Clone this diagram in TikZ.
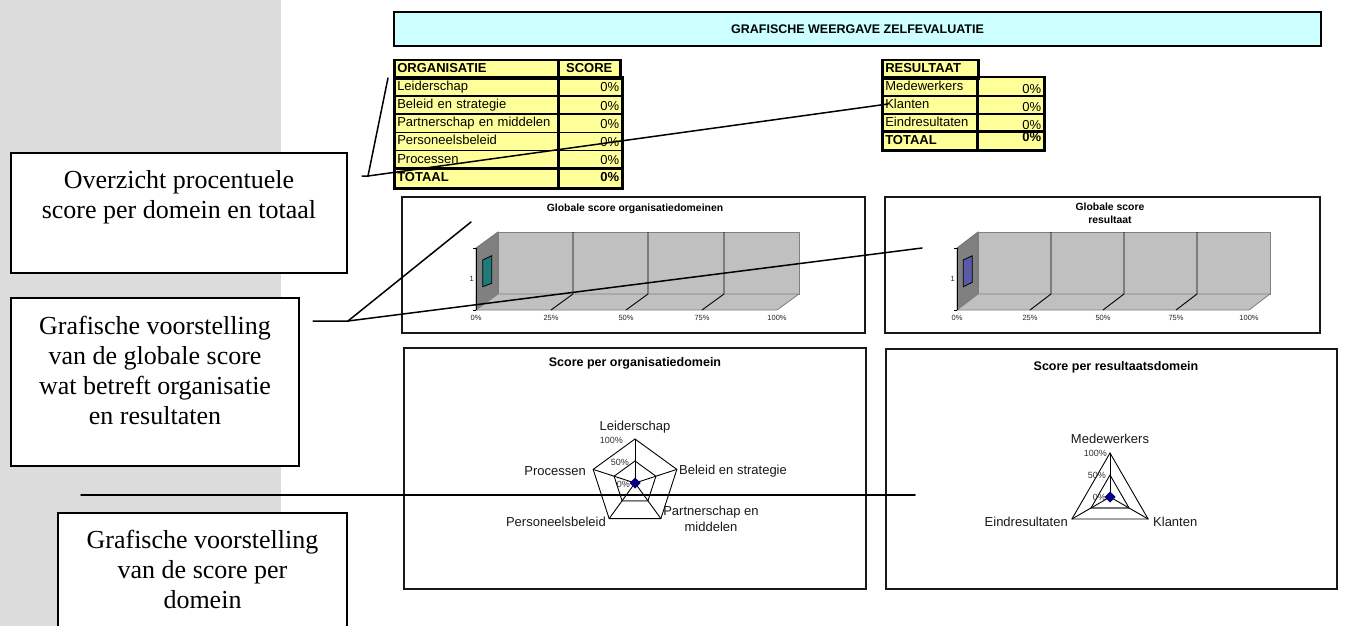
\documentclass[tikz,border=0pt]{standalone}
\usepackage{fontspec}
\setmainfont{Liberation Serif}
\newfontfamily\arial{Liberation Sans}
\usetikzlibrary{calc}
\definecolor{bandgray}{HTML}{DCDCDC}
\definecolor{tyellow}{HTML}{FFFF99}
\definecolor{tcyan}{HTML}{CCFFFF}
\definecolor{wallgray}{HTML}{C0C0C0}
\definecolor{sidegray}{HTML}{808080}
\definecolor{barteal}{HTML}{1F7A7A}
\definecolor{barblue}{HTML}{5A5AA8}
\definecolor{navyblue}{HTML}{000080}
\newcommand{\tabfont}{\arial\fontsize{13}{14}\selectfont}
\begin{document}
\begin{tikzpicture}[x=1pt,y=-1pt,
  callbox/.style={draw, line width=2pt, anchor=north west, inner sep=0pt, fill=white},
  calltext/.style={anchor=north, inner sep=0pt, align=center, font=\fontsize{26}{30}\selectfont},
  leader/.style={line width=1.5pt, line cap=round},
  chartframe/.style={draw=black!90, line width=1.5pt, anchor=north west, inner sep=0pt, fill=white},
  ctitle/.style={font=\arial\bfseries\fontsize{10.4}{13}\selectfont, align=center, inner sep=0pt},
  rtitle/.style={font=\arial\bfseries\fontsize{12.5}{14}\selectfont, inner sep=0pt},
  axlab/.style={font=\arial\fontsize{7.5}{8}\selectfont, inner sep=0pt, text=black!85},
  pct/.style={font=\arial\fontsize{9}{10}\selectfont, text=black!80, inner sep=0pt, anchor=east},
  rlab/.style={font=\arial\fontsize{13}{16}\selectfont, inner sep=0pt, text=black!90},
  cell/.style={draw, fill=tyellow, line width=1.5pt, anchor=north west, inner xsep=2.5pt, inner ysep=0pt, text height=9.5pt, text depth=2.5pt, font=\tabfont},
  lc/.style={cell, text width=#1, align=left},
  rc/.style={cell, text width=#1, align=right},
  cc/.style={cell, text width=#1, align=center},
  thickline/.style={line width=2.4pt},
  wall/.style={fill=wallgray, draw=sidegray, line width=0.8pt},
  side/.style={fill=sidegray, draw=black!55, line width=0.8pt},
  grid3d/.style={draw=black, line width=0.9pt},
  spoke/.style={draw=black, line width=0.9pt},
  marker/.style={fill=navyblue}
]
\useasboundingbox (0,0) rectangle (1347,626);
\fill[bandgray] (0,0) rectangle (281,626);

% ---------------- title bar
\node[draw, line width=2pt, fill=tcyan, anchor=north west, minimum width=927pt, minimum height=34pt, inner sep=0pt,
      font=\arial\bfseries\fontsize{12.5}{14}\selectfont] (title) at (393,11) {GRAFISCHE WEERGAVE ZELFEVALUATIE};

% ---------------- ORGANISATIE table
\node[lc=159pt, minimum height=17pt, font=\tabfont\bfseries] (oh1) at (394,60) {ORGANISATIE};
\node[cc=56pt, minimum height=17pt, font=\tabfont\bfseries] (oh2) at (558,60) {SCORE};
\node[lc=159pt, minimum height=18.2pt] (o1a) at (394,77) {Leiderschap};
\node[rc=58pt, minimum height=18.2pt] (o1b) at (558,77) {\raisebox{-1.5pt}{0\%}};
\node[lc=159pt, minimum height=18.2pt] (o2a) at (394,95.2) {Beleid en strategie};
\node[rc=58pt, minimum height=18.2pt] (o2b) at (558,95.2) {\raisebox{-1.5pt}{0\%}};
\node[lc=159pt, minimum height=18.2pt] (o3a) at (394,113.4) {Partnerschap en middelen};
\node[rc=58pt, minimum height=18.2pt] (o3b) at (558,113.4) {\raisebox{-1.5pt}{0\%}};
\node[lc=159pt, minimum height=18.2pt] (o4a) at (394,131.6) {Personeelsbeleid};
\node[rc=58pt, minimum height=18.2pt] (o4b) at (558,131.6) {\raisebox{-1.5pt}{0\%}};
\node[lc=159pt, minimum height=18.2pt] (o5a) at (394,149.8) {Processen};
\node[rc=58pt, minimum height=18.2pt] (o5b) at (558,149.8) {\raisebox{-1.5pt}{0\%}};
\node[lc=159pt, minimum height=19pt, font=\tabfont\bfseries] (o6a) at (394,168) {TOTAAL};
\node[rc=58pt, minimum height=19pt, font=\tabfont\bfseries] (o6b) at (558,168) {0\%};
\draw[thickline] (oh1.north west) rectangle (oh2.south east);
\draw[thickline] (o1a.north west) rectangle (o6b.south east);
\draw[thickline] (o6a.north west) -- (o6b.north east);
\draw[thickline] (oh2.north west) -- (o6b.south west);

% ---------------- RESULTAAT table
\node[lc=90pt, minimum height=17pt, font=\tabfont\bfseries] (rh1) at (882,60) {RESULTAAT};
\node[lc=90pt, minimum height=18pt] (r1a) at (882,77) {Medewerkers};
\node[rc=61pt, minimum height=18pt] (r1b) at (977,77) {\raisebox{-3pt}{0\%}};
\node[lc=90pt, minimum height=18pt] (r2a) at (882,95) {Klanten};
\node[rc=61pt, minimum height=18pt] (r2b) at (977,95) {\raisebox{-3pt}{0\%}};
\node[lc=90pt, minimum height=18pt] (r3a) at (882,113) {Eindresultaten};
\node[rc=61pt, minimum height=18pt] (r3b) at (977,113) {\raisebox{-3pt}{0\%}};
\node[lc=90pt, minimum height=18pt, font=\tabfont\bfseries] (r4a) at (882,131) {TOTAAL};
\node[rc=61pt, minimum height=18pt, font=\tabfont\bfseries] (r4b) at (977,131) {\raisebox{3pt}{0\%}};
\draw[thickline] (rh1.north west) rectangle (rh1.south east);
\draw[thickline] (r1a.north west) rectangle (r4b.south east);
\draw[thickline] (r4a.north west) -- (r4b.north east);
\draw[thickline] (r1b.north west) -- (r4b.south west);

% ---------------- chart 1 : global score organisation
\node[chartframe, minimum width=463pt, minimum height=136pt] (ch1) at (401,196) {};
\node[ctitle] (ch1t) at (635,209) {Globale score organisatiedomeinen};
\path[side] (476,248) -- (498,232) -- (498,294) -- (476,310) -- cycle;
\path[wall] (498,232) rectangle (799,294);
\path[wall] (476,310) -- (498,294) -- (799,294) -- (777,310) -- cycle;
\foreach \gx/\fx in {573/551, 648/626, 724/702} {
  \draw[grid3d] (\gx,232) -- (\gx,294) -- (\fx,310);
}
\draw[line width=1pt] (476,248) -- (476,310);
\draw[line width=0.8pt] (473,248) -- (476,248);
\draw[line width=0.8pt] (473,310) -- (476,310);
\node[axlab, anchor=east] (ch1y) at (474,279) {1};
\node[axlab] (ch1x0) at (476,318) {0\%};
\node[axlab] (ch1x1) at (551,318) {25\%};
\node[axlab] (ch1x2) at (626,318) {50\%};
\node[axlab] (ch1x3) at (702,318) {75\%};
\node[axlab] (ch1x4) at (777,318) {100\%};
\filldraw[fill=barteal, draw=black, line width=0.8pt] (482.7,260) -- (491.7,255.7) -- (491.7,283.3) -- (482.7,286.7) -- cycle;

% ---------------- chart 2 : global score results
\node[chartframe, minimum width=435pt, minimum height=136pt] (ch2) at (884,196) {};
\node[ctitle] (ch2t) at (1110,213) {Globale score\\resultaat};
\path[side] (957,248) -- (978,232) -- (978,294) -- (957,310) -- cycle;
\path[wall] (978,232) rectangle (1270,294);
\path[wall] (957,310) -- (978,294) -- (1270,294) -- (1249,310) -- cycle;
\foreach \gx/\fx in {1051/1030, 1124/1103, 1197/1176} {
  \draw[grid3d] (\gx,232) -- (\gx,294) -- (\fx,310);
}
\draw[line width=1pt] (957,248) -- (957,310);
\draw[line width=0.8pt] (954,248) -- (957,248);
\draw[line width=0.8pt] (954,310) -- (957,310);
\node[axlab, anchor=east] (ch2y) at (955,279) {1};
\node[axlab] (ch2x0) at (957,318) {0\%};
\node[axlab] (ch2x1) at (1030,318) {25\%};
\node[axlab] (ch2x2) at (1103,318) {50\%};
\node[axlab] (ch2x3) at (1176,318) {75\%};
\node[axlab] (ch2x4) at (1249,318) {100\%};
\filldraw[fill=barblue, draw=black, line width=0.8pt] (963.3,260) -- (972.3,255.7) -- (972.3,282.3) -- (963.3,286.7) -- cycle;

% ---------------- chart 3 : radar organisation
\node[chartframe, minimum width=462pt, minimum height=241pt] (ch3) at (403,347) {};
\node[rtitle] (ch3t) at (635,363) {Score per organisatiedomein};
\coordinate (c3) at (635,483);
\coordinate (p1) at ($(c3)+(0,-44)$);
\coordinate (p2) at ($(c3)+(41.85,-13.6)$);
\coordinate (p3) at ($(c3)+(25.86,35.6)$);
\coordinate (p4) at ($(c3)+(-25.86,35.6)$);
\coordinate (p5) at ($(c3)+(-41.85,-13.6)$);
\coordinate (q1) at ($(c3)+(0,-22)$);
\coordinate (q2) at ($(c3)+(20.92,-6.8)$);
\coordinate (q3) at ($(c3)+(12.93,17.8)$);
\coordinate (q4) at ($(c3)+(-12.93,17.8)$);
\coordinate (q5) at ($(c3)+(-20.92,-6.8)$);
\draw[spoke] (p1) -- (p2) -- (p3) -- (p4) -- (p5) -- cycle;
\draw[spoke] (q3) -- (q4) -- (q5) -- (q1) -- (q2) -- (q3);
\draw[draw=black!55, line width=0.9pt] (q3) -- (q4);
\foreach \p in {p1,p2,p3,p4,p5} { \draw[spoke] (c3) -- (\p); }
\path[marker] ($(c3)+(0,-5.5)$) -- ($(c3)+(5.5,0)$) -- ($(c3)+(0,5.5)$) -- ($(c3)+(-5.5,0)$) -- cycle;
\node[rlab] (l31) at (635,427) {Leiderschap};
\node[rlab, anchor=west] (l32) at (679,471) {Beleid en strategie};
\node[rlab, anchor=north, align=center] (l33) at (711,506) {Partnerschap en\\middelen};
\node[rlab, anchor=east] (l34) at (606,522) {Personeelsbeleid};
\node[rlab, anchor=east] (l35) at (586,471) {Processen};
\node[pct] (t3a) at (623,440) {100\%};
\node[pct] (t3b) at (629,462) {50\%};
\node[pct] (t3c) at (630,484) {0\%};

% ---------------- chart 4 : radar results
\node[chartframe, minimum width=451pt, minimum height=240pt] (ch4) at (885,348) {};
\node[rtitle] (ch4t) at (1116,367) {Score per resultaatsdomein};
\coordinate (c4) at (1110,497);
\coordinate (s1) at ($(c4)+(0,-44)$);
\coordinate (s2) at ($(c4)+(38.1,22)$);
\coordinate (s3) at ($(c4)+(-38.1,22)$);
\coordinate (u1) at ($(c4)+(0,-22)$);
\coordinate (u2) at ($(c4)+(19.05,11)$);
\coordinate (u3) at ($(c4)+(-19.05,11)$);
\draw[spoke] (s1) -- (s2) -- (s3) -- cycle;
\draw[spoke] (u2) -- (u1) -- (u3);
\draw[draw=black!55, line width=1.2pt] (u3) -- (u2);
\foreach \p in {s1,s2,s3} { \draw[spoke] (c4) -- (\p); }
\path[marker] ($(c4)+(0,-5.5)$) -- ($(c4)+(5.5,0)$) -- ($(c4)+(0,5.5)$) -- ($(c4)+(-5.5,0)$) -- cycle;
\node[rlab] (l41) at (1110,439) {Medewerkers};
\node[rlab, anchor=west] (l42) at (1153,522) {Klanten};
\node[rlab, anchor=east] (l43) at (1068,522) {Eindresultaten};
\node[pct] (t4a) at (1107,453) {100\%};
\node[pct] (t4b) at (1106,475) {50\%};
\node[pct] (t4c) at (1106,497) {0\%};

% ---------------- callout boxes
\node[callbox, minimum width=336pt, minimum height=120pt] (box1) at (10,152) {};
\node[calltext] (box1t) at ($(box1.north)+(0,18)$) {Overzicht procentuele\\score per domein en totaal};
\node[callbox, minimum width=288pt, minimum height=168pt] (box2) at (10,297) {};
\node[calltext] (box2t) at ($(box2.north)+(0,19)$) {Grafische voorstelling\\van de globale score\\wat betreft organisatie\\en resultaten};
\node[callbox, minimum width=289pt, minimum height=120pt] (box3) at (57,512) {};
\node[calltext] (box3t) at ($(box3.north)+(0,18)$) {Grafische voorstelling\\van de score per\\domein};

% ---------------- leader lines
\coordinate (k1a) at (362,176);
\coordinate (k1b) at (368,176);
\coordinate (k1c) at (388,78);
\coordinate (k1d) at (888,104);
\draw[leader] (k1a) -- (k1b) -- (k1c);
\draw[leader] (k1b) -- (k1d);
\coordinate (k2a) at (313,321);
\coordinate (k2b) at (348,321);
\coordinate (k2c) at (471,222);
\coordinate (k2d) at (922,248);
\draw[leader] (k2a) -- (k2b) -- (k2c);
\draw[leader] (k2b) -- (k2d);
\coordinate (k3a) at (81,495);
\coordinate (k3b) at (915,495);
\draw[leader] (k3a) -- (k3b);
\end{tikzpicture}
\end{document}
